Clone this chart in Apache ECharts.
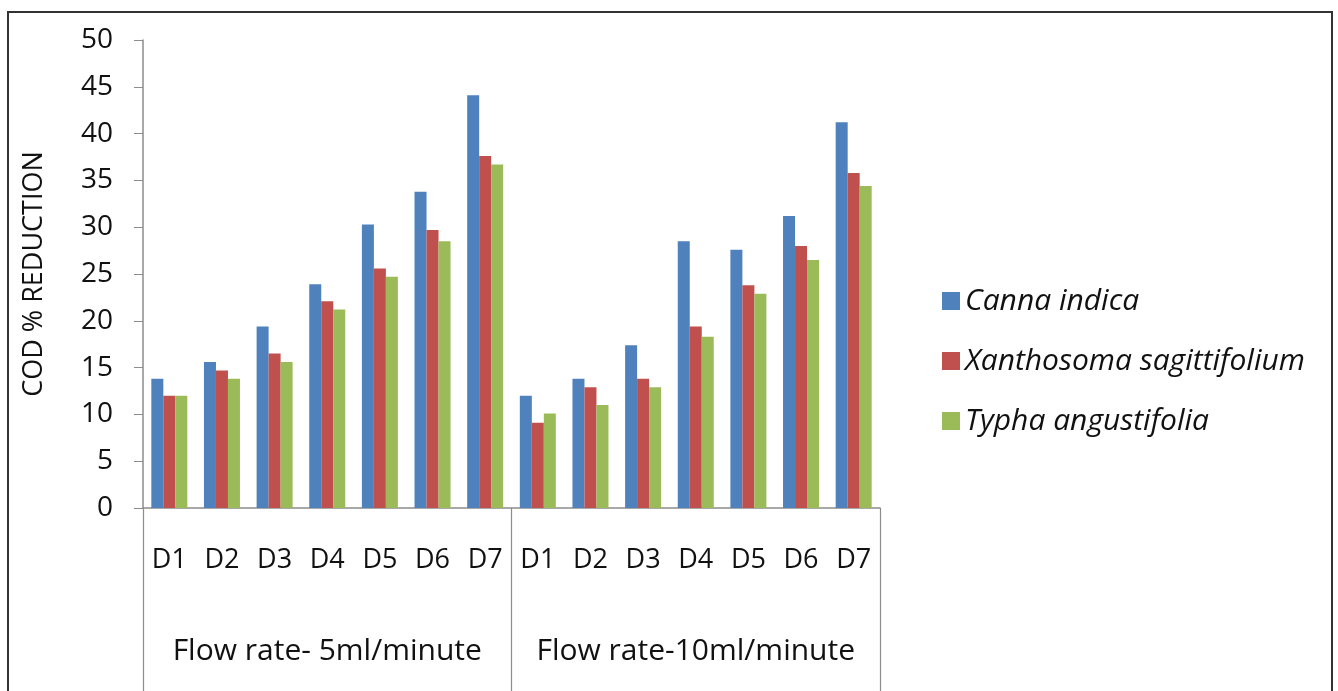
<!DOCTYPE html>
<html>
<head>
<meta charset="utf-8">
<script src="https://cdn.jsdelivr.net/npm/echarts@6/dist/echarts.min.js"></script>
<style>
  html, body { margin: 0; padding: 0; background: #fff; }
  #chart { width: 1338px; height: 691px; }
</style>
</head>
<body>
<div id="chart"></div>
<script>
// COD % reduction per day, two flow rates, three plant species
const days = ['D1', 'D2', 'D3', 'D4', 'D5', 'D6', 'D7'];
const groups = ['Flow rate- 5ml/minute', 'Flow rate-10ml/minute'];
const yTicks = { min: 0, max: 50, interval: 5 };

const cannaIndica   = [13.8, 15.6, 19.4, 23.9, 30.3, 33.8, 44.1,   12.0, 13.8, 17.4, 28.5, 27.6, 31.2, 41.2];
const xanthosoma    = [12.0, 14.7, 16.5, 22.1, 25.6, 29.7, 37.6,    9.1, 12.9, 13.8, 19.4, 23.8, 28.0, 35.8];
const typha         = [12.0, 13.8, 15.6, 21.2, 24.7, 28.5, 36.7,   10.1, 11.0, 12.9, 18.3, 22.9, 26.5, 34.4];

const seriesNames = ['Canna indica', 'Xanthosoma sagittifolium', 'Typha angustifolia'];
const colors = ['#4F81BD', '#C0504D', '#9BBB59'];

// unique keys so duplicate day names stay separate categories
const cats = [];
groups.forEach((g, gi) => days.forEach(d => cats.push(gi + '|' + d)));

const FONT = 'Open Sans';
const GRAY = '#8c8c8c';

const chart = echarts.init(document.getElementById('chart'));

chart.setOption({
  animation: false,
  textStyle: { fontFamily: FONT },
  color: colors,
  grid: { left: 143, right: 458, top: 40, bottom: 183 },
  legend: {
    orient: 'vertical',
    left: 937, top: 281,
    itemWidth: 18, itemHeight: 18, itemGap: 30,
    icon: 'rect',
    textStyle: { fontFamily: FONT, fontStyle: 'italic', fontSize: 30, color: '#111' },
    data: seriesNames,
  },
  xAxis: [
    {
      type: 'category',
      data: cats,
      axisLine: { lineStyle: { color: GRAY, width: 1.5 } },
      axisTick: { show: false },
      axisLabel: {
        interval: 0,
        color: '#111', fontSize: 27, margin: 39,
        formatter: v => v.split('|')[1],
      },
    },
    {
      type: 'category',
      position: 'bottom',
      data: groups,
      axisLine: { show: false },
      axisTick: { show: true, interval: 0, length: 200, lineStyle: { color: GRAY, width: 1.2 } },
      axisLabel: { interval: 0, color: '#111', fontSize: 30, margin: 128 },
    },
  ],
  yAxis: {
    type: 'value',
    min: yTicks.min, max: yTicks.max, interval: yTicks.interval,
    name: 'COD % REDUCTION',
    nameLocation: 'middle',
    nameGap: 95,
    nameTextStyle: { fontSize: 27, color: '#111' },
    axisLine: { show: true, lineStyle: { color: GRAY, width: 1.5 } },
    axisTick: { show: true, length: 9, lineStyle: { color: GRAY } },
    axisLabel: { color: '#111', fontSize: 28, margin: 30 },
    splitLine: { show: false },
  },
  series: [cannaIndica, xanthosoma, typha].map((vals, i) => ({
    name: seriesNames[i],
    type: 'bar',
    xAxisIndex: 0,
    data: vals,
    barWidth: 12,
    barGap: '0%',
    itemStyle: { color: colors[i] },
  })),
  graphic: [{
    type: 'rect',
    shape: { x: 8, y: 12, width: 1324, height: 700 },
    style: { fill: null, stroke: '#333', lineWidth: 2 },
    silent: true,
  }],
});
window.addEventListener('resize', () => chart.resize());
</script>
</body>
</html>
